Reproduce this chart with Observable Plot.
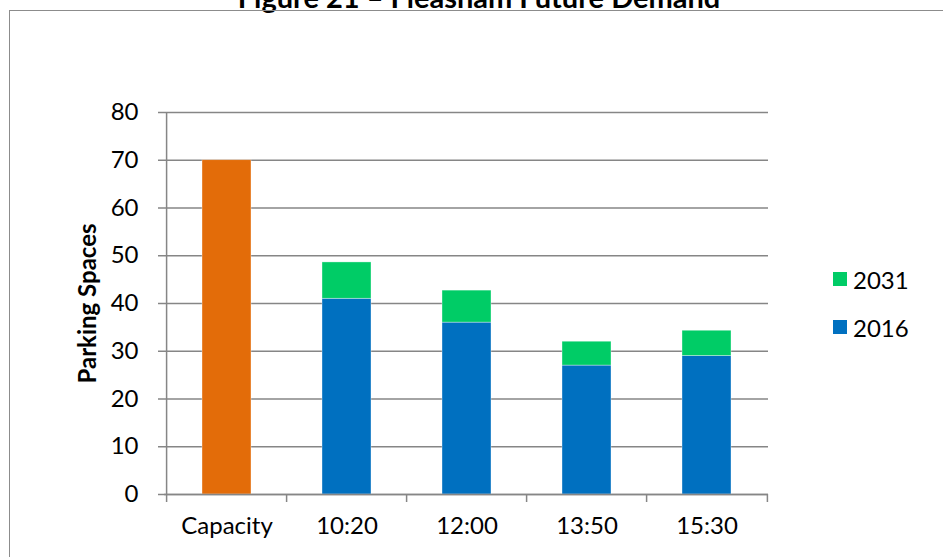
<!DOCTYPE html>
<html><head><meta charset="utf-8">
<script src="https://cdn.jsdelivr.net/npm/d3@7"></script>
<script src="https://cdn.jsdelivr.net/npm/@observablehq/plot@0.6"></script>
<style>
body{margin:0;background:#fff;overflow:hidden}
#wrap{position:relative;width:943px;height:557px;overflow:hidden;font-family:Lato,sans-serif}
#border{position:absolute;left:9px;top:10px;width:980px;height:620px;border:1.5px solid #8c8c8c;box-sizing:border-box}
#title{position:absolute;top:-21px;left:0;width:958px;text-align:center;font:bold 29px Lato,sans-serif;color:#000}
#chart{position:absolute;left:0;top:0}
#legend{position:absolute;left:833px;top:267px;font:24px Lato,sans-serif;color:#000}
.item{display:flex;align-items:center;height:24px;margin-bottom:24px}
.sw{width:14px;height:14px;margin-right:6px}
</style></head><body>
<div id="wrap"><div id="title">Figure 21 – Fleasham Future Demand</div><div id="border"></div><div id="chart"></div><div id="legend"></div></div>
<script>
const categories = ["Capacity","10:20","12:00","13:50","15:30"];
const capacity = 70;
const times = ["10:20","12:00","13:50","15:30"];
const demand2016 = [41, 36, 27, 29];
const demand2031 = [48.6, 42.7, 32.0, 34.3];
const legendSeries = ["2031","2016"];
const yTicks = [0,10,20,30,40,50,60,70,80];
const colors = {"Capacity":"#E36C09","2016":"#0070C0","2031":"#00CC66"};

const rows = [{cat:"Capacity", series:"Capacity", y1:0, y2:capacity}];
times.forEach((t,i)=>{
  rows.push({cat:t, series:"2016", y1:0, y2:demand2016[i]});
  rows.push({cat:t, series:"2031", y1:demand2016[i], y2:demand2031[i]});
});

const W = 943, H = 557, mL = 164, mR = 175, mT = 112, mB = 63;
const step = (W - mL - mR) / categories.length;
const grid = "#868686";

const plot = Plot.plot({
  width: W, height: H,
  marginLeft: mL, marginRight: mR, marginTop: mT, marginBottom: mB,
  style: {fontFamily: "Lato, sans-serif", fontSize: "24px", color: "#000", background: "transparent"},
  x: {domain: categories, paddingInner: 0.595, paddingOuter: 0.2975, align: 0.5},
  y: {domain: [0, 80]},
  marks: [
    Plot.ruleY(yTicks, {stroke: grid, strokeWidth: 1.5}),
    Plot.barY(rows, {x: "cat", y1: "y1", y2: "y2", fill: d => colors[d.series], stroke: "#ffffff", strokeWidth: 0.6, strokeOpacity: 0.6}),
    Plot.ruleY([0], {stroke: grid, strokeWidth: 1.5}),
    Plot.ruleX([0], {x: () => categories[0], dx: -step/2, y1: 0, y2: 80, stroke: grid, strokeWidth: 1.5}),
    Plot.axisY({ticks: yTicks, tickSize: 6, tickPadding: 20, stroke: grid, strokeWidth: 1.5,
      label: "Parking Spaces", labelAnchor: "center", labelArrow: "none", labelOffset: 86, fontWeight: "normal"}),
    Plot.axisX({ticks: categories, tickSize: 0, tickPadding: 22, label: null}),
    Plot.axisX({ticks: categories, tickSize: 8, text: null, dx: -step/2, stroke: grid, strokeWidth: 1.5, label: null}),
    Plot.axisX({ticks: [categories[categories.length-1]], tickSize: 8, text: null, dx: step/2, stroke: grid, strokeWidth: 1.5, label: null})
  ]
});
document.getElementById("chart").appendChild(plot);
// bold y-axis title
plot.querySelectorAll("text").forEach(t => { if (t.textContent === "Parking Spaces") { t.setAttribute("font-weight", "bold"); t.setAttribute("font-size", "24px"); } });

const leg = document.getElementById("legend");
legendSeries.forEach(s => {
  const it = document.createElement("div"); it.className = "item";
  const sw = document.createElement("div"); sw.className = "sw"; sw.style.background = colors[s];
  const tx = document.createElement("span"); tx.textContent = s;
  it.appendChild(sw); it.appendChild(tx); leg.appendChild(it);
});
</script>
</body></html>
